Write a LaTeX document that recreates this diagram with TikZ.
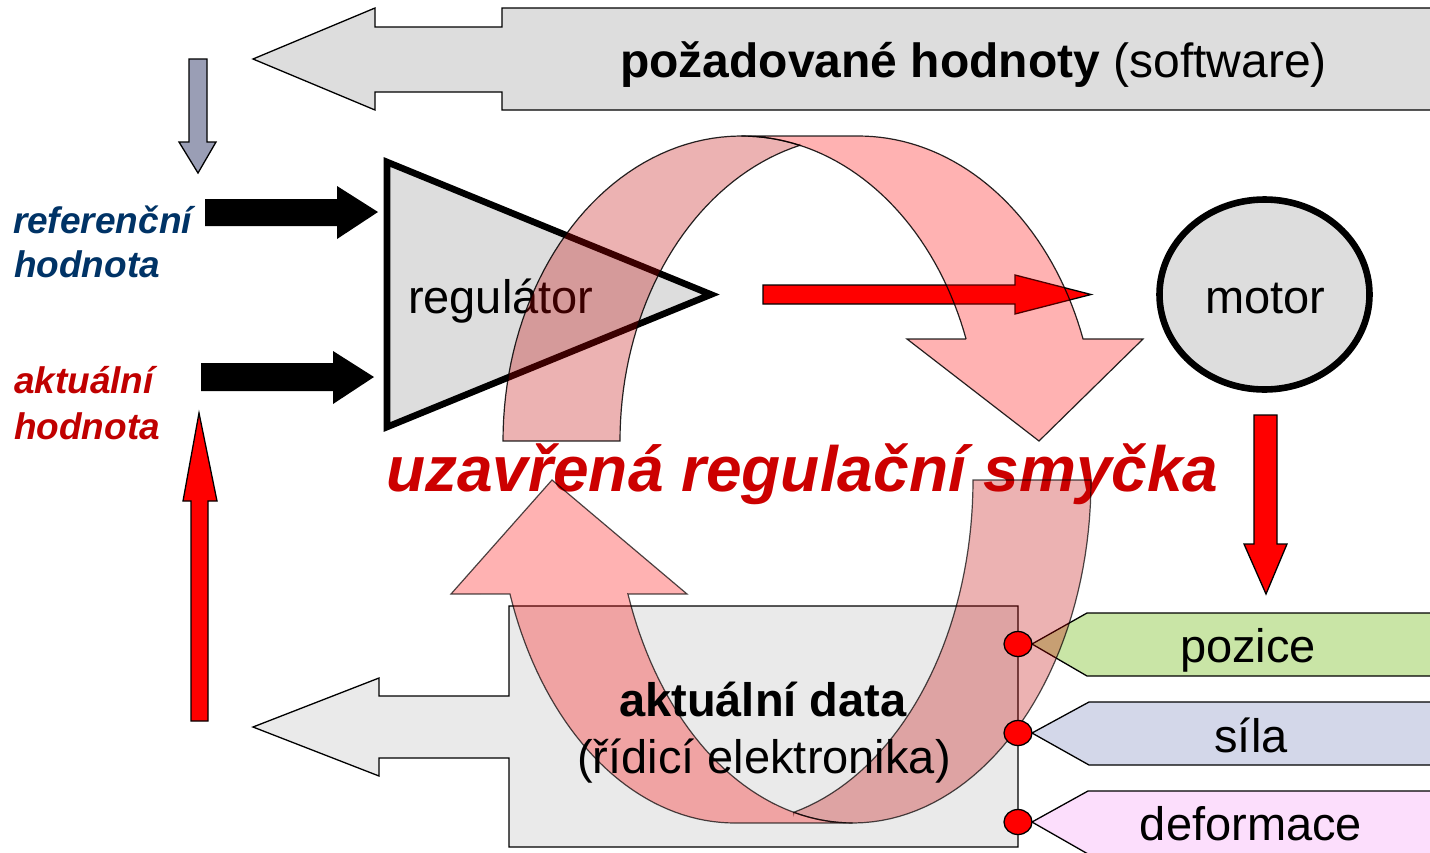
\documentclass[tikz,border=0pt]{standalone}
\usepackage{fontspec}
\setmainfont{Liberation Sans}
\usetikzlibrary{shapes.geometric}
\definecolor{lgray}{RGB}{221,221,221}
\definecolor{boxgray}{RGB}{234,234,234}
\definecolor{slate}{RGB}{154,158,181}
\definecolor{refblue}{RGB}{0,51,102}
\definecolor{actred}{RGB}{192,0,0}
\definecolor{titlered}{RGB}{204,0,0}
\definecolor{backred}{RGB}{195,0,0}
\definecolor{posgreen}{RGB}{201,229,166}
\definecolor{forceblue}{RGB}{211,215,233}
\definecolor{deformpink}{RGB}{252,222,252}
\newcommand{\fsz}[1]{\fontsize{#1}{#1}\selectfont}
\begin{document}
\begin{tikzpicture}[x=1pt,y=-1pt,
  edge/.style={draw=black,line width=1.3pt,line join=miter},
  thickedge/.style={draw=black,line width=6.6pt,line join=miter},
  band/.style={fill=red,fill opacity=0.3,draw=black,draw opacity=0.85,line width=1.2pt},
  bandback/.style={band,fill=backred},
  txt/.style={inner sep=0pt,outer sep=0pt,font=\fsz{47}},
  side/.style={inner sep=0pt,outer sep=0pt,font=\fsz{37}\bfseries\itshape}
]
\useasboundingbox (0,0) rectangle (1430,852);
\fill[white] (0,0) rectangle (1430,852);

% top callout arrow
\path[edge,fill=lgray] (253,59) -- (375,8) -- (375,27) -- (502,27) -- (502,8) -- (1440,8)
  -- (1440,110) -- (502,110) -- (502,92) -- (375,92) -- (375,110) -- cycle;
\node[txt,anchor=base west] (req) at (620,77) {\fsz{48}\textbf{požadované hodnoty} (software)};

% small slate down arrow
\path[edge,fill=slate] (189,59) -- (207,59) -- (207,142) -- (216,142) -- (198,173) -- (179,142) -- (189,142) -- cycle;

% black input arrows
\path[fill=black] (205,199) -- (337,199) -- (337,186) -- (378,212) -- (337,239) -- (337,226) -- (205,226) -- cycle;
\path[fill=black] (201,363) -- (333,363) -- (333,351) -- (374,377) -- (333,404) -- (333,391) -- (201,391) -- cycle;

% side labels
\node[side,anchor=base west,text=refblue] (ref1) at (13,233) {referenční};
\node[side,anchor=base west,text=refblue] (ref2) at (14,277) {hodnota};
\node[side,anchor=base west,text=actred] (act1) at (14,393) {aktuální};
\node[side,anchor=base west,text=actred] (act2) at (14,439) {hodnota};

% red up arrow (left)
\path[edge,fill=red] (191,721) -- (191,501) -- (183,501) -- (199,413) -- (217,501) -- (208,501) -- (208,721) -- cycle;

% regulator
\path[thickedge,fill=lgray] (387,162) -- (711,294.5) -- (387,427) -- cycle;
\node[txt,anchor=base west] (reg) at (408,313) {regulátor};

% red arrow regulator -> motor
\path[edge,fill=red] (763,285) -- (1015,285) -- (1015,275) -- (1091,294.5) -- (1015,314) -- (1015,304) -- (763,304) -- cycle;

% upper curved arrow (back part, then front part)
\path[bandback] (799.9,145.3)
  -- plot[domain=255.79:180,samples=40] ({858.4+238.4*cos(\x)},{441+305*sin(\x)})
  -- plot[domain=180:284.21,samples=50] ({741.4+238.4*cos(\x)},{441+305*sin(\x)})
  -- cycle;
\path[band] (966.1,339)
  -- plot[domain=-19.54:-90,samples=40] ({741.4+238.4*cos(\x)},{441+305*sin(\x)})
  -- plot[domain=-90:-19.54,samples=40] ({858.4+238.4*cos(\x)},{441+305*sin(\x)})
  -- (1143,339) -- (1039,441) -- (907,339) -- cycle;

% motor
\node[ellipse,thickedge,fill=lgray,minimum width=210pt,minimum height=190pt,inner sep=0pt] (motor) at (1264.5,294.5) {};
\node[txt,anchor=base] (motortxt) at (1265.5,313) {motor};

% red down arrow under motor
\path[edge,fill=red] (1254,415) -- (1277,415) -- (1277,544) -- (1287,544) -- (1266,594) -- (1244,544) -- (1254,544) -- cycle;

% title
\node[inner sep=0pt,anchor=base west,text=titlered,font=\fsz{64}\bfseries\itshape] (title) at (386,491) {uzavřená regulační smyčka};

% box callout
\path[edge,fill=boxgray] (253,727) -- (379,678) -- (379,696) -- (509,696) -- (509,606) -- (1018,606)
  -- (1018,847) -- (509,847) -- (509,758) -- (379,758) -- (379,776) -- cycle;

% sensor labels
\path[edge,fill=posgreen] (1032,644) -- (1087,613) -- (1440,613) -- (1440,676) -- (1087,676) -- cycle;
\node[txt,anchor=base] (pos) at (1248,662) {pozice};
\path[edge,fill=forceblue] (1032,733) -- (1089,702) -- (1440,702) -- (1440,765) -- (1089,765) -- cycle;
\node[txt,anchor=base] (force) at (1251,752) {síla};
\path[edge,fill=deformpink] (1032,822) -- (1088,791) -- (1440,791) -- (1440,854) -- (1088,854) -- cycle;
\node[txt,anchor=base] (deform) at (1251,840) {deformace};

% lower curved arrow (back part, then front part)
\path[bandback,draw opacity=0.7] (793.7,812.4)
  -- plot[domain=75.66:0,samples=40] ({734.7+238.3*cos(\x)},{480+343*sin(\x)})
  -- plot[domain=0:104.34,samples=50] ({852.7+238.3*cos(\x)},{480+343*sin(\x)})
  -- cycle;
\path[band,draw opacity=0.7] (628,594)
  -- plot[domain=160.59:90,samples=40] ({852.7+238.3*cos(\x)},{480+343*sin(\x)})
  -- plot[domain=90:160.59,samples=40] ({734.7+238.3*cos(\x)},{480+343*sin(\x)})
  -- (451,594) -- (552,480) -- (687,594) -- cycle;

% box text
\node[txt,anchor=base] (data1) at (763,716) {\textbf{aktuální data}};
\node[txt,anchor=base] (data2) at (764,773) {(řídicí elektronika)};

% red dots
\foreach \yy/\nm in {644/d1,733/d2,822/d3}
  \node[ellipse,edge,fill=red,minimum width=28pt,minimum height=25pt,inner sep=0pt] (\nm) at (1018,\yy) {};
\end{tikzpicture}
\end{document}
